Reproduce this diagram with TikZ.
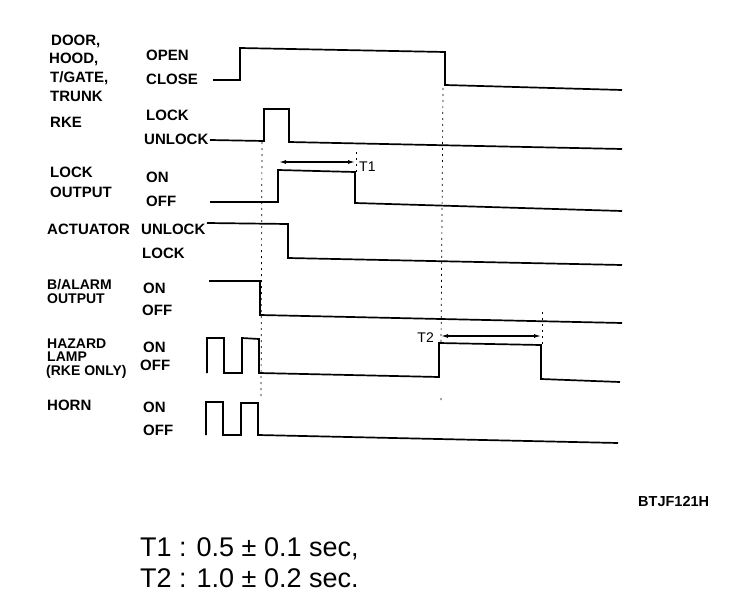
\documentclass[tikz,border=0pt]{standalone}
\usepackage{fontspec}
\setmainfont{Liberation Sans}
\usetikzlibrary{arrows.meta}

\begin{document}
\begin{tikzpicture}[x=1pt,y=-1pt,
 wave/.style={line width=1.7pt,line join=miter},
 guide/.style={line width=0.7pt,dash pattern=on 2pt off 4pt},
 span/.style={line width=1.2pt,{Latex[length=7pt,width=4pt]}-{Latex[length=7pt,width=4pt]}},
 lbl/.style={anchor=west,inner sep=0pt,text height=10.6pt,text depth=0pt,
  font=\fontsize{15}{15}\selectfont\bfseries},
 tight/.style={lbl,text height=10pt,font=\fontsize{14}{14}\selectfont\bfseries}]
\useasboundingbox (0,0) rectangle (752,610);
% signal names
\node[lbl] (door) at (51,40) {DOOR,};
\node[lbl] (hood) at (49,58) {HOOD,};
\node[lbl] (tgate) at (50,77) {T/GATE,};
\node[lbl] (trunk) at (50,96) {TRUNK};
\node[lbl] (rke) at (50,122) {RKE};
\node[lbl] (lock) at (50,172) {LOCK};
\node[lbl] (output) at (50,192) {OUTPUT};
\node[lbl] (act) at (47,229) {ACTUATOR};
\node[tight] (alarm) at (47,284) {B/ALARM};
\node[tight] (alarmout) at (47,298) {OUTPUT};
\node[tight] (hazard) at (47,343) {HAZARD};
\node[tight] (lamp) at (47,356.5) {LAMP};
\node[tight] (rkeonly) at (46,370.5) {(RKE ONLY)};
\node[lbl] (horn) at (47,405) {HORN};
% levels
\node[lbl] (open) at (146,55) {OPEN};
\node[lbl] (close) at (146,79) {CLOSE};
\node[lbl] (rkelock) at (146,115) {LOCK};
\node[lbl] (rkeunlock) at (144,139) {UNLOCK};
\node[lbl] (lockon) at (146,177) {ON};
\node[lbl] (lockoff) at (146,201) {OFF};
\node[lbl] (actunlock) at (141,229) {UNLOCK};
\node[lbl] (actlock) at (142,253) {LOCK};
\node[lbl] (alarmon) at (143,288) {ON};
\node[lbl] (alarmoff) at (142,310) {OFF};
\node[lbl] (hazon) at (143,347) {ON};
\node[lbl] (hazoff) at (140,365) {OFF};
\node[lbl] (hornon) at (143,407) {ON};
\node[lbl] (hornoff) at (143,430) {OFF};
% waveforms
\draw[wave] (213,80) -- (240,80) -- (240,48) -- (445,52) -- (445,85) -- (622,90);
\draw[wave] (210,140) -- (264,141) -- (264,109) -- (289,109) -- (289,142) -- (622,149);
\draw[wave] (210,202) -- (278,202) -- (278,170) -- (355,172) -- (355,203) -- (622,211);
\draw[wave] (207,223) -- (288,224) -- (288,258) -- (622,265);
\draw[wave] (209,281) -- (260,281) -- (260,315) -- (622,323);
\draw[wave] (207,373) -- (207,338) -- (224,338) -- (224,373) -- (242,373) -- (242,338)
 -- (259,339) -- (259,373) -- (439,377) -- (439,343) -- (541,345) -- (541,379) -- (620,382);
\draw[wave] (206,435) -- (206,402) -- (223,402) -- (223,435) -- (241,435) -- (241,403)
 -- (258,403) -- (258,435) -- (618,443);
% timing
\coordinate (rkeup) at (262,142);
\coordinate (hornend) at (261,400);
\coordinate (doordown) at (443,88);
\coordinate (t2start) at (441,343);
\coordinate (t2tick) at (441,398);
\coordinate (t2mark) at (441,403);
\coordinate (t1top) at (356,152);
\coordinate (t1bot) at (356,172);
\coordinate (t2top) at (542,312);
\coordinate (t2bot) at (542,345);
\draw[guide] (rkeup) -- (hornend);
\draw[guide] (doordown) -- (t2start) (t2tick) -- (t2mark);
\draw[guide] (t1top) -- (t1bot);
\draw[guide] (t2top) -- (t2bot);
\coordinate (t1a) at (279,162);
\coordinate (t1b) at (355,162);
\coordinate (t2a) at (441,336);
\coordinate (t2b) at (541,336);
\draw[span] (t1a) -- (t1b);
\draw[span] (t2a) -- (t2b);
\node[lbl,font=\fontsize{14}{14}\selectfont] (t1) at (359,166) {T1};
\node[lbl,anchor=east,font=\fontsize{14}{14}\selectfont] (t2) at (434,337) {T2};
\node[lbl,font=\fontsize{14.5}{14.5}\selectfont\bfseries] (code) at (638,501) {BTJF121H};
\node[lbl,text height=19.5pt,font=\fontsize{27}{27}\selectfont] (t1val) at (140,547) {T1 : 0.5 ± 0.1 sec,};
\node[lbl,text height=19.5pt,font=\fontsize{27}{27}\selectfont] (t2val) at (140,578) {T2 : 1.0 ± 0.2 sec.};
\end{tikzpicture}
\end{document}
